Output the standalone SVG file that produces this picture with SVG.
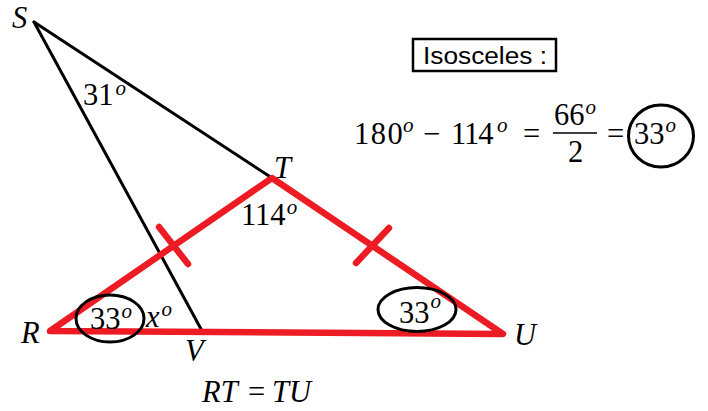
<svg xmlns="http://www.w3.org/2000/svg" width="708" height="411" viewBox="0 0 708 411">
<style>
.m{font-family:"Liberation Serif","DejaVu Serif",serif;font-size:30.5px;fill:#000}
.i{font-style:italic}
.sup{font-style:italic;font-size:21px}
.blk{stroke:#000;stroke-width:3;fill:none;stroke-linecap:round}
.red{stroke:#ED1C24;stroke-width:6.5;fill:none;stroke-linecap:round;stroke-linejoin:round}
.ring{stroke:#000;stroke-width:3;fill:none}
</style>
<rect width="708" height="411" fill="#fff"/>
<g id="connectors">
<line class="blk" x1="34" y1="22" x2="272" y2="178"/>
<line class="blk" x1="34" y1="22" x2="201" y2="329"/>
<polygon class="red" points="50,331 272,178 503,334"/>
<line class="red" x1="159" y1="227" x2="188" y2="264"/>
<line class="red" x1="356" y1="263" x2="389" y2="228"/>
</g>
<g id="S"><text class="m i" x="12" y="28">S</text></g>
<g id="T"><text class="m i" x="274" y="178">T</text></g>
<g id="R"><text class="m i" x="21" y="343">R</text></g>
<g id="V"><text class="m i" x="185" y="361">V</text></g>
<g id="U"><text class="m i" x="514" y="345">U</text></g>
<g id="angle-S"><text class="m" x="83" y="105">31<tspan class="sup" dx="2" dy="-10">o</tspan></text></g>
<g id="angle-T"><text class="m" x="241" y="225">114<tspan class="sup" dx="1" dy="-11">o</tspan></text></g>
<g id="angle-R">
<ellipse class="ring" cx="110" cy="318.5" rx="34" ry="23.5"/>
<text class="m" x="90" y="329">33<tspan class="sup" dx="1" dy="-11">o</tspan></text>
</g>
<g id="angle-x"><text class="m i" x="146" y="327">x<tspan class="sup" dx="2" dy="-11">o</tspan></text></g>
<g id="angle-U">
<ellipse class="ring" cx="417" cy="309.5" rx="39" ry="22"/>
<text class="m" x="399" y="323">33<tspan class="sup" dx="1" dy="-15">o</tspan></text>
</g>
<g id="RT-TU"><text class="m i" x="202" y="402">RT</text><text class="m" x="248" y="402">=</text><text class="m i" x="272" y="402">TU</text></g>
<g id="isosceles">
<rect x="413" y="39" width="143" height="32" fill="none" stroke="#000" stroke-width="2.5"/>
<text x="423" y="64" font-family="'Liberation Sans',Arial,sans-serif" font-size="23" textLength="124" lengthAdjust="spacingAndGlyphs">Isosceles :</text>
</g>
<g id="equation">
<text class="m" x="354" y="144" letter-spacing="1.5">180<tspan class="sup" x="403" y="132" letter-spacing="0">o</tspan><tspan x="423" y="144" letter-spacing="0">−</tspan><tspan x="451" y="144" letter-spacing="-1">114</tspan><tspan class="sup" x="497" y="132" letter-spacing="0">o</tspan><tspan x="523" y="144" letter-spacing="0">=</tspan></text>
<text class="m" x="554" y="125">66<tspan class="sup" dx="1" dy="-11">o</tspan></text>
<line x1="553" y1="133" x2="597" y2="133" stroke="#000" stroke-width="1.5"/>
<text class="m" x="568" y="162">2</text>
<text class="m" x="607" y="144">=</text>
<ellipse class="ring" cx="661" cy="136" rx="32.5" ry="31"/>
<text class="m" x="634" y="144">33<tspan class="sup" dx="1" dy="-12">o</tspan></text>
</g>
</svg>
